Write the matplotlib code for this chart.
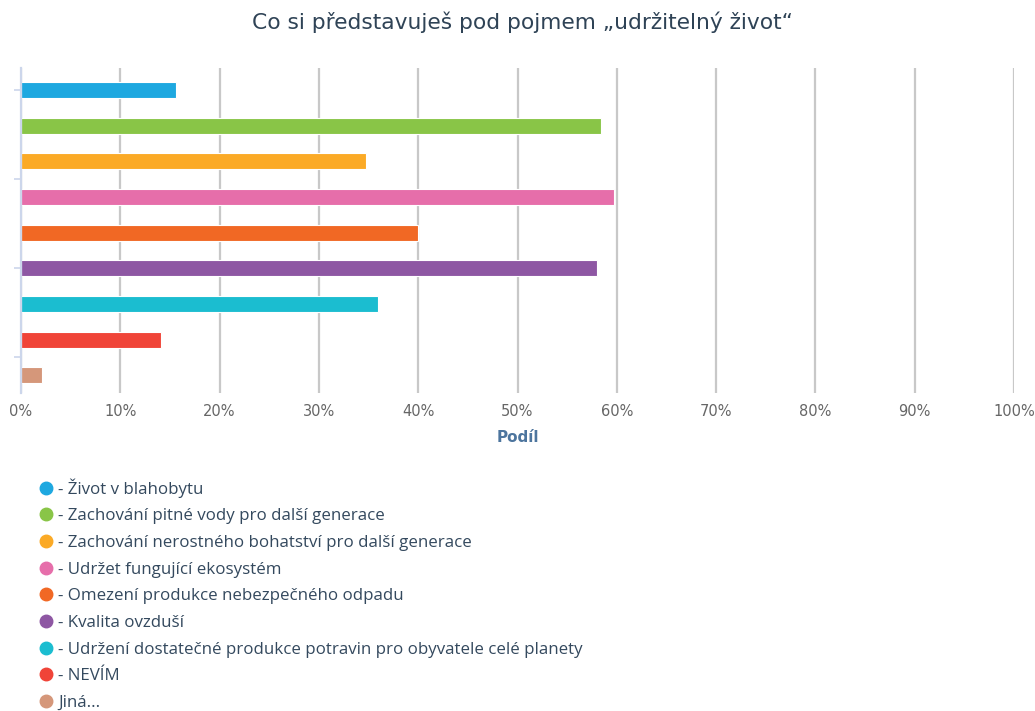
import matplotlib
matplotlib.use("Agg")
import matplotlib.pyplot as plt
from matplotlib.lines import Line2D

title = "Co si představuješ pod pojmem „udržitelný život“"
categories = [
    "- Život v blahobytu",
    "- Zachování pitné vody pro další generace",
    "- Zachování nerostného bohatství pro další generace",
    "- Udržet fungující ekosystém",
    "- Omezení produkce nebezpečného odpadu",
    "- Kvalita ovzduší",
    "- Udržení dostatečné produkce potravin pro obyvatele celé planety",
    "- NEVÍM",
    "Jiná...",
]
values = [15.6, 58.4, 34.7, 59.7, 40.0, 58.0, 36.0, 14.1, 2.1]
colors = ["#1ea8e0", "#89c547", "#fbaa26", "#e66eaa", "#f16824",
          "#8e57a3", "#1bbdd0", "#f04438", "#d5977a"]
xticks = [0, 10, 20, 30, 40, 50, 60, 70, 80, 90, 100]
xlabel = "Podíl"

W, H = 1035, 711
fig = plt.figure(figsize=(W / 100, H / 100), dpi=100)
ax = fig.add_axes([21 / W, 1 - 393 / H, (1014 - 21) / W, (393 - 68) / H])

ypos = list(range(len(values)))
ax.barh(ypos, values, height=0.45, color=colors, edgecolor="white",
        linewidth=0.8, zorder=3)
ax.set_ylim(8.5, -0.62)
ax.set_xlim(0, 100)

ax.set_xticks(xticks)
ax.set_xticklabels([f"{t}%" for t in xticks], fontsize=10.5, color="#666666",
                   family="DejaVu Sans")
ax.tick_params(axis="x", length=0, pad=8)
ax.grid(axis="x", color="#c8c8c8", linewidth=1.6, zorder=0)
ax.set_yticks([0, 2.5, 5, 7.5])
ax.set_yticklabels([])
ax.tick_params(axis="y", length=5, color="#ccd6eb", width=1.2)

for s in ["top", "right", "bottom"]:
    ax.spines[s].set_visible(False)
ax.spines["left"].set_color("#ccd6eb")
ax.spines["left"].set_linewidth(1.6)
ax.spines["left"].set_zorder(4)

ax.set_xlabel(xlabel, fontsize=11, fontweight="bold", color="#4d759e",
              labelpad=8, family="DejaVu Sans")

fig.text(522 / W, 1 - 22 / H, title, ha="center", va="center", fontsize=15.7,
         color="#2f4356", family="DejaVu Sans")

handles = [Line2D([0], [0], marker="o", linestyle="none", markersize=9,
                  markerfacecolor=c, markeredgecolor=c) for c in colors]
leg = fig.legend(handles, categories, loc="upper left",
                 bbox_to_anchor=(36 / W, 1 - 478 / H), frameon=False,
                 prop={"family": "Open Sans", "size": 12.2},
                 labelspacing=0.63, handletextpad=0.1, handlelength=1.2,
                 borderaxespad=0, borderpad=0)
for t in leg.get_texts():
    t.set_color("#34495e")

fig.savefig("out.png", dpi=100)
